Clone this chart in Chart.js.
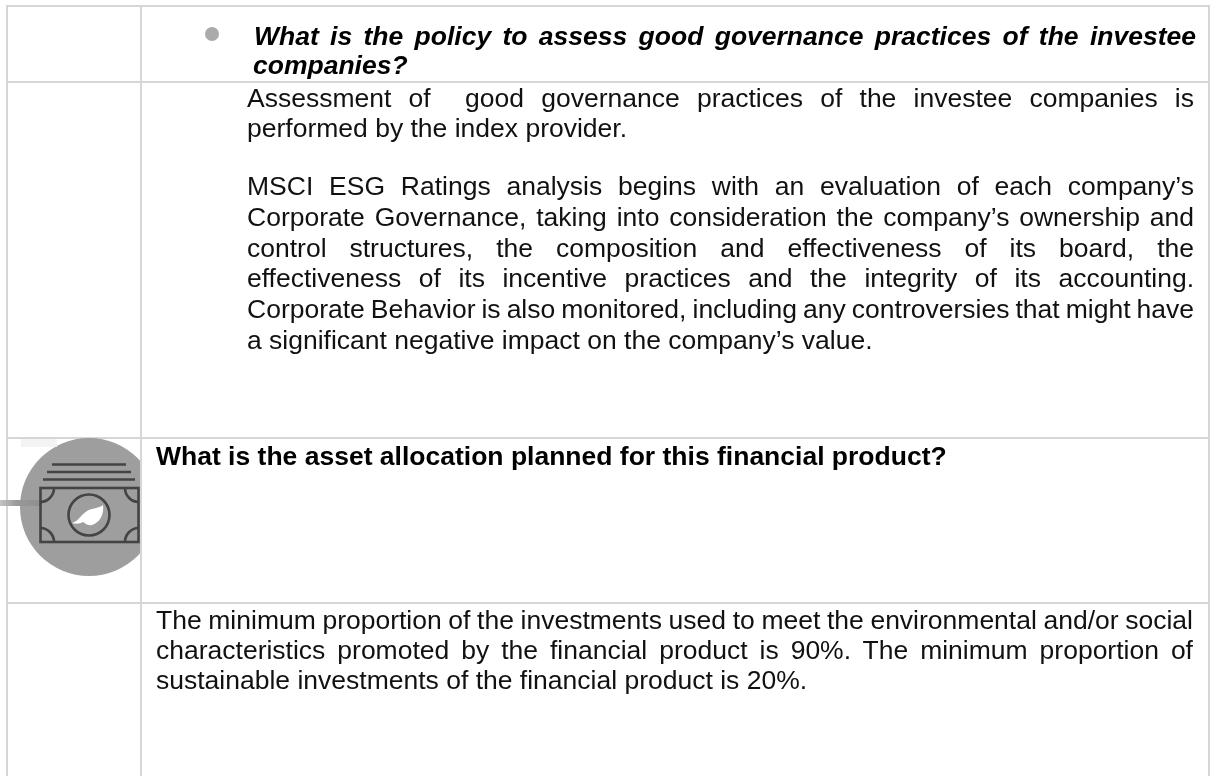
<!DOCTYPE html>
<html>
<head>
<meta charset="utf-8">
<title>Asset allocation</title>
<script src="https://cdn.jsdelivr.net/npm/chart.js@4/dist/chart.umd.min.js"></script>
<style>
  html, body { margin: 0; padding: 0; background: #fff; overflow: hidden; }
  #page { position: relative; width: 1212px; height: 776px; overflow: hidden; font-family: "Liberation Sans", Arial, sans-serif; color: #111; }
  .rule { position: absolute; background: #d6d6d6; }
  .line { position: absolute; white-space: pre; font-size: 26.5px; line-height: 30px; filter: blur(0.3px); }
  .bi { font-weight: bold; font-style: italic; color: #000; }
  .b { font-weight: bold; color: #000; }
  #bullet { position: absolute; left: 205px; top: 27px; width: 14px; height: 14px; border-radius: 50%; background: #aaa; }
  #iconBox { position: absolute; left: 20px; top: 438px; width: 121px; height: 138px; overflow: hidden; }
  #iconOverlay { position: absolute; left: 0; top: 0; }
</style>
</head>
<body>
<div id="page">
  <div class="rule" style="left:7px;top:5px;width:1203px;height:2px"></div>
  <div class="rule" style="left:7px;top:81px;width:1203px;height:2px"></div>
  <div class="rule" style="left:7px;top:437px;width:1203px;height:2px"></div>
  <div class="rule" style="left:7px;top:602px;width:1203px;height:2px"></div>
  <div class="rule" style="left:6px;top:5px;width:2px;height:771px"></div>
  <div class="rule" style="left:1208px;top:5px;width:2px;height:771px"></div>
  <div id="bullet"></div>
  <div id="iconBox"><canvas id="iconChart" width="138" height="138"></canvas></div>
  <div class="rule" style="left:140px;top:5px;width:2px;height:771px"></div>
  <svg id="iconOverlay" width="141" height="776" fill="none" stroke="#444" stroke-width="2.6">
    <defs>
      <linearGradient id="fade" x1="0" x2="1" y1="0" y2="0">
        <stop offset="0" stop-color="#c4c4c4"/><stop offset="0.4" stop-color="#999"/><stop offset="1" stop-color="#8e8e8e"/>
      </linearGradient>
    </defs>
    <rect x="21" y="439" width="36" height="8" fill="#f3f3f3" stroke="none"/>
    <rect x="0" y="500" width="42" height="6" fill="url(#fade)" stroke="none"/>
    <path d="M52 464.5H126M47 472H131M43 479.5H135"/>
    <rect x="40.5" y="488" width="98" height="54"/>
    <path d="M54 488A14 14 0 0 1 40.5 502M125 488A14 14 0 0 0 138.5 502M54 542A14 14 0 0 0 40.5 528M125 542A14 14 0 0 1 138.5 528"/>
    <circle cx="89" cy="515" r="20.5"/>
    <path d="M72 523C80 521 82 511 92 509C98 508 102 506 103 505C104 513 101 522 92 525C87 526 85 523 83 522C80 524 76 524 72 523Z" fill="#fff" stroke="none"/>
  </svg>
</div>
<script>
// The reference is a document page, the only round mark is the grey disc of the icon
const iconLabels = ["icon"];
const iconValues = [1];
const iconColors = ["#9e9e9e"];

// [text, left, baseline, right (0 = not justified), class]
const textLines = [
  ["What is the policy to assess good governance practices of the investee", 254, 45, 1196, "bi"],
  ["companies?", 253, 74, 0, "bi"],
  ["Assessment of  good governance practices of the investee companies is", 247, 107, 1194, ""],
  ["performed by the index provider.", 247, 137, 0, ""],
  ["MSCI ESG Ratings analysis begins with an evaluation of each company\u2019s", 247, 195, 1194, ""],
  ["Corporate Governance, taking into consideration the company\u2019s ownership and", 247, 226, 1194, ""],
  ["control structures, the composition and effectiveness of its board, the", 247, 257, 1194, ""],
  ["effectiveness of its incentive practices and the integrity of its accounting.", 247, 287, 1194, ""],
  ["Corporate Behavior is also monitored, including any controversies that might have", 247, 318, 1194, ""],
  ["a significant negative impact on the company\u2019s value.", 247, 349, 0, ""],
  ["What is the asset allocation planned for this financial product?", 156, 465, 0, "b"],
  ["The minimum proportion of the investments used to meet the environmental and/or social", 156, 629, 1193, ""],
  ["characteristics promoted by the financial product is 90%. The minimum proportion of", 156, 659, 1193, ""],
  ["sustainable investments of the financial product is 20%.", 156, 689, 0, ""]
];

const page = document.getElementById("page");
textLines.forEach(([text, left, base, right, cls]) => {
  const el = document.createElement("div");
  el.className = "line " + cls;
  el.textContent = text;
  el.style.left = left + "px";
  el.style.top = (base - 24) + "px";
  page.appendChild(el);
  if (right) {
    // stretch or squeeze the spaces so the line ends on the cell margin
    const gaps = text.split(" ").length - 1;
    const extra = (right - left - el.getBoundingClientRect().width) / gaps;
    el.style.wordSpacing = extra + "px";
  }
});

new Chart(document.getElementById("iconChart"), {
  type: "pie",
  data: {
    labels: iconLabels,
    datasets: [{ data: iconValues, backgroundColor: iconColors, borderWidth: 0 }]
  },
  options: {
    responsive: false,
    animation: false,
    layout: { padding: 0 },
    plugins: { legend: { display: false }, tooltip: { enabled: false } }
  }
});
</script>
</body>
</html>
